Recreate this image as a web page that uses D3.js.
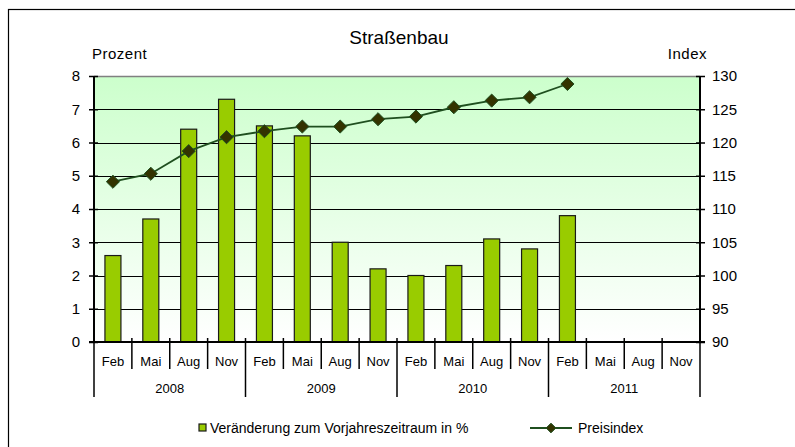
<!DOCTYPE html>
<html>
<head>
<meta charset="utf-8">
<script src="https://cdn.jsdelivr.net/npm/d3@7"></script>
<style>
  body { margin: 0; background: #fff; }
  svg { font-family: "Liberation Sans", Arial, sans-serif; }
</style>
</head>
<body>
<svg id="chart" width="795" height="447"></svg>
<script>
// data
var years = ["2008", "2009", "2010", "2011"];
var months = ["Feb", "Mai", "Aug", "Nov"];
var change = [2.6, 3.7, 6.4, 7.3, 6.5, 6.2, 3.0, 2.2, 2.0, 2.3, 3.1, 2.8, 3.8];
var index = [114.1, 115.3, 118.7, 120.8, 121.7, 122.4, 122.4, 123.5, 123.9, 125.3, 126.3, 126.8, 128.8];
var leftTicks = [0, 1, 2, 3, 4, 5, 6, 7, 8];
var rightTicks = [90, 95, 100, 105, 110, 115, 120, 125, 130];

var periods = [];
years.forEach(function(y) {
    months.forEach(function(m) { periods.push(y + "-" + m); });
});

var svg = d3.select("#chart");
// plot box (note: "top" is reserved on window, so use pTop etc.)
var pLeft = 94, pRight = 700, pTop = 76, pBottom = 342;

// outer border (runs off the right and bottom)
svg.append("rect")
    .attr("x", 8.5).attr("y", 9.5)
    .attr("width", 800).attr("height", 450)
    .style("fill", "none").style("stroke", "#000").style("stroke-width", 1.2);

var x = d3.scaleBand().domain(periods).range([pLeft, pRight]);
var yL = d3.scaleLinear().domain([0, 8]).range([pBottom, pTop]);
var yR = d3.scaleLinear().domain([90, 130]).range([pBottom, pTop]);

// plot background gradient
var grad = svg.append("defs").append("linearGradient")
    .attr("id", "bg").attr("x1", 0).attr("y1", 0).attr("x2", 0).attr("y2", 1);
grad.append("stop").attr("offset", "0%").attr("stop-color", "#ccffcc");
grad.append("stop").attr("offset", "100%").attr("stop-color", "#ffffff");

svg.append("rect")
    .attr("x", pLeft).attr("y", pTop)
    .attr("width", pRight - pLeft).attr("height", pBottom - pTop)
    .style("fill", "url(#bg)");

// top border of plot area
svg.append("line")
    .attr("x1", pLeft).attr("x2", pRight).attr("y1", pTop + 0.5).attr("y2", pTop + 0.5)
    .style("stroke", "#808080").style("stroke-width", 1.5);

// gridlines
svg.selectAll(".grid")
    .data(leftTicks.slice(1, -1))
    .enter().append("line")
    .attr("x1", pLeft).attr("x2", pRight)
    .attr("y1", function(d) { return Math.round(yL(d)) + 0.5; })
    .attr("y2", function(d) { return Math.round(yL(d)) + 0.5; })
    .style("stroke", "#000").style("stroke-width", 1);

// bars
var bw = 16;
svg.selectAll(".bar")
    .data(change)
    .enter().append("rect")
    .attr("x", function(d, i) { return x(periods[i]) + (x.bandwidth() - bw) / 2; })
    .attr("y", function(d) { return yL(d); })
    .attr("width", bw)
    .attr("height", function(d) { return pBottom - yL(d); })
    .style("fill", "#99cc00").style("stroke", "#1a1a1a").style("stroke-width", 1.2);

// left axis
var axL = svg.append("g").attr("transform", "translate(" + pLeft + ",0)")
    .call(d3.axisLeft(yL).tickValues(leftTicks).tickSize(0).tickPadding(14));
axL.select(".domain").remove();
axL.append("line").attr("y1", pTop).attr("y2", pBottom).style("stroke", "#000").style("stroke-width", 2);
axL.selectAll(".tick").append("line").attr("x1", -5).attr("x2", 4).style("stroke", "#000").style("stroke-width", 1.5);
axL.selectAll("text").style("font-size", "15px").style("fill", "#000").attr("font-family", null);

// right axis
var axR = svg.append("g").attr("transform", "translate(" + pRight + ",0)")
    .call(d3.axisRight(yR).tickValues(rightTicks).tickSize(0).tickPadding(12));
axR.select(".domain").remove();
axR.append("line").attr("y1", pTop).attr("y2", pBottom).style("stroke", "#000").style("stroke-width", 2);
axR.selectAll(".tick").append("line").attr("x1", -4).attr("x2", 5).style("stroke", "#000").style("stroke-width", 1.5);
axR.selectAll("text").style("font-size", "15px").style("fill", "#000").attr("font-family", null);

// x axis baseline and category ticks
svg.append("line")
    .attr("x1", pLeft - 5).attr("x2", pRight + 5).attr("y1", pBottom).attr("y2", pBottom)
    .style("stroke", "#000").style("stroke-width", 2);

var edges = periods.map(function(p) { return x(p); }).concat([pRight]);
svg.selectAll(".xtick")
    .data(edges)
    .enter().append("line")
    .attr("x1", function(d) { return d; }).attr("x2", function(d) { return d; })
    .attr("y1", pBottom - 4)
    .attr("y2", function(d, i) { return i % 4 === 0 ? 397 : 369; })
    .style("stroke", "#000").style("stroke-width", 1.5);

svg.selectAll(".mlabel")
    .data(periods)
    .enter().append("text")
    .attr("x", function(d) { return x(d) + x.bandwidth() / 2; })
    .attr("y", 366)
    .attr("text-anchor", "middle")
    .style("font-size", "13px")
    .text(function(d) { return d.split("-")[1]; });

svg.selectAll(".ylabel")
    .data(years)
    .enter().append("text")
    .attr("x", function(d) { return (x(d + "-Feb") + x(d + "-Nov") + x.bandwidth()) / 2; })
    .attr("y", 393)
    .attr("text-anchor", "middle")
    .style("font-size", "13px")
    .text(function(d) { return d; });

// index line
var line = d3.line()
    .x(function(d, i) { return x(periods[i]) + x.bandwidth() / 2; })
    .y(function(d) { return yR(d); });
svg.append("path")
    .datum(index)
    .attr("d", line)
    .style("fill", "none").style("stroke", "#1f4f1f").style("stroke-width", 1.8);

var diamond = d3.symbol().type(d3.symbolDiamond2).size(110);
svg.selectAll(".marker")
    .data(index)
    .enter().append("path")
    .attr("d", diamond)
    .attr("transform", function(d, i) {
        return "translate(" + (x(periods[i]) + x.bandwidth() / 2) + "," + yR(d) + ")";
    })
    .style("fill", "#333300").style("stroke", "#1f4f1f").style("stroke-width", 1);

// titles
svg.append("text").attr("x", 399).attr("y", 44).attr("text-anchor", "middle")
    .style("font-size", "19px").text("Straßenbau");
svg.append("text").attr("x", 92).attr("y", 59)
    .style("font-size", "15px").style("letter-spacing", "0.5px").text("Prozent");
svg.append("text").attr("x", 707).attr("y", 59).attr("text-anchor", "end")
    .style("font-size", "15px").style("letter-spacing", "0.5px").text("Index");

// legend
svg.append("rect").attr("x", 199).attr("y", 424).attr("width", 7).attr("height", 7)
    .style("fill", "#99cc00").style("stroke", "#1a1a1a").style("stroke-width", 1.2);
svg.append("text").attr("x", 210).attr("y", 433).style("font-size", "14px")
    .text("Veränderung zum Vorjahreszeitraum in %");
svg.append("line").attr("x1", 530).attr("x2", 572).attr("y1", 428).attr("y2", 428)
    .style("stroke", "#1f4f1f").style("stroke-width", 1.8);
svg.append("path").attr("d", d3.symbol().type(d3.symbolDiamond2).size(60))
    .attr("transform", "translate(551,428)")
    .style("fill", "#333300").style("stroke", "#1f4f1f");
svg.append("text").attr("x", 578).attr("y", 433).style("font-size", "14px")
    .text("Preisindex");
</script>
</body>
</html>
